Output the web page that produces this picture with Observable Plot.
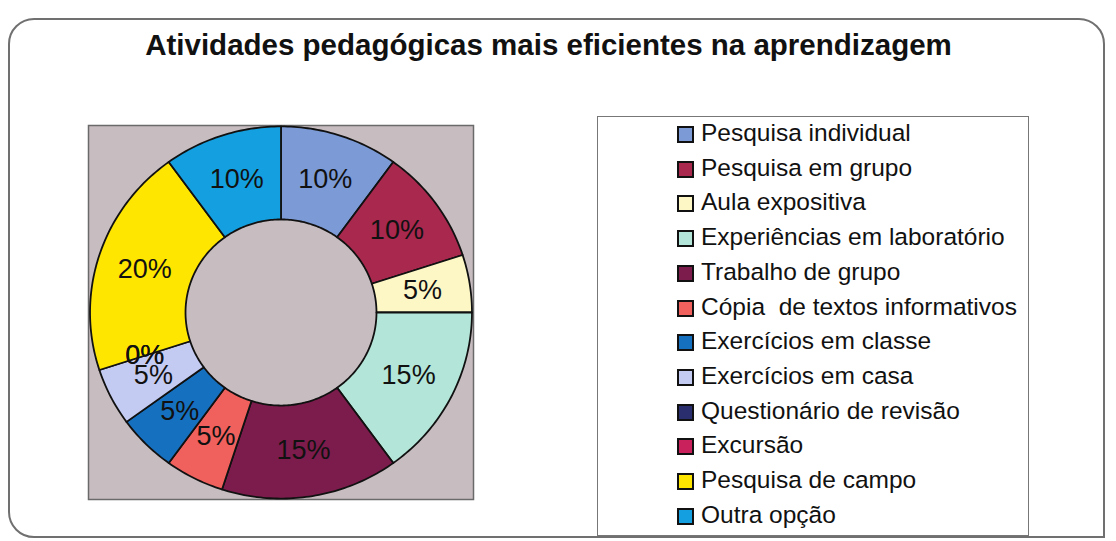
<!DOCTYPE html>
<html><head><meta charset="utf-8">
<script src="https://cdn.jsdelivr.net/npm/d3@7"></script>
<script src="https://cdn.jsdelivr.net/npm/@observablehq/plot@0.6"></script>
<style>
body{margin:0;background:#fff;font-family:"Liberation Sans",Arial,sans-serif;}
#wrap{position:relative;width:1116px;height:541px;overflow:hidden;}
#border{position:absolute;left:8px;top:18px;width:1097px;height:520px;border:2px solid #707070;border-radius:26px 26px 0 26px;box-sizing:border-box;}
#chart{position:absolute;left:0;top:0;}
#title{position:absolute;left:0;width:1097px;top:28px;text-align:center;font-weight:bold;font-size:29.5px;color:#111;white-space:nowrap;}
#legend{position:absolute;left:597px;top:116px;width:432px;height:420px;border:1.5px solid #777;box-sizing:border-box;background:#fff;}
.item{position:absolute;left:0;height:34.7px;line-height:34.7px;font-size:24.5px;color:#111;white-space:pre;}
.sw{position:absolute;left:79px;top:10px;width:17px;height:17px;border:2px solid #111;box-sizing:border-box;}
.tx{position:absolute;left:103px;top:0;}
</style>
</head><body>
<div id="wrap">
  <div id="border"></div>
  <div id="chart"></div>
  <div id="title">Atividades pedagógicas mais eficientes na aprendizagem</div>
  <div id="legend"></div>
</div>
<script>
const categories = ["Pesquisa individual", "Pesquisa em grupo", "Aula expositiva", "Experiências em laboratório", "Trabalho de grupo", "Cópia  de textos informativos", "Exercícios em classe", "Exercícios em casa", "Questionário de revisão", "Excursão", "Pesquisa de campo", "Outra opção"];
const values = [10, 10, 5, 15, 15, 5, 5, 5, 0, 0, 20, 10];
const colors = ["#7b9ad6", "#a8284e", "#fdf7c6", "#b3e6d8", "#7c1c4c", "#f0605c", "#1670c0", "#c4cbf2", "#2a2e6e", "#c8215c", "#ffe600", "#14a0e0"];
const labels = values.map(v => v + "%");

const inner = 0.5, outer = 1, labelR = 0.75;
const total = d3.sum(values);
const points = [];
const labelData = [];
let acc = 0;
categories.forEach((name, i) => {
  const a0 = acc / total * 2 * Math.PI;
  acc += values[i];
  const a1 = acc / total * 2 * Math.PI;
  const am = (a0 + a1) / 2;
  labelData.push({name, text: labels[i], x: labelR * Math.sin(am), y: labelR * Math.cos(am)});
  if (values[i] <= 0) return;
  const n = Math.max(2, Math.ceil((a1 - a0) / (Math.PI / 180)));
  const ring = [];
  for (let k = 0; k <= n; k++) { const a = a0 + (a1 - a0) * k / n; ring.push([outer * Math.sin(a), outer * Math.cos(a)]); }
  for (let k = n; k >= 0; k--) { const a = a0 + (a1 - a0) * k / n; ring.push([inner * Math.sin(a), inner * Math.cos(a)]); }
  ring.push(ring[0]);
  ring.forEach(([x, y]) => points.push({name, x, y}));
});

const chart = Plot.plot({
  width: 1116, height: 541,
  marginLeft: 88, marginRight: 643, marginTop: 125, marginBottom: 42,
  x: {domain: [-1.008, 1.008], axis: null},
  y: {domain: [-1.005, 1.005], axis: null},
  color: {domain: categories, range: colors},
  style: {background: "transparent", fontFamily: "'Liberation Sans', Arial, sans-serif"},
  marks: [
    Plot.frame({fill: "#c7bdc1", stroke: "#6a6a6a", strokeWidth: 1.5}),
    Plot.line(points, {x: "x", y: "y", z: "name", fill: "name", stroke: "#111", strokeWidth: 1.8, curve: "linear"}),
    Plot.text(labelData, {x: "x", y: "y", text: "text", fontSize: 27, fill: "#111"})
  ]
});
document.getElementById("chart").appendChild(chart);

const legend = document.getElementById("legend");
categories.forEach((name, i) => {
  const it = document.createElement("div");
  it.className = "item";
  it.style.top = (i * 34.7 - 1) + "px";
  it.style.width = "100%";
  const sw = document.createElement("div");
  sw.className = "sw";
  sw.style.background = colors[i];
  const tx = document.createElement("span");
  tx.className = "tx";
  tx.textContent = name;
  it.appendChild(sw); it.appendChild(tx);
  legend.appendChild(it);
});
</script>
</body></html>
